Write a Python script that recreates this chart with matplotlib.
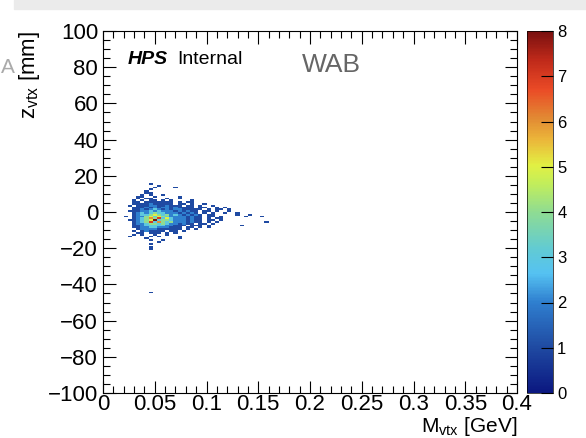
import numpy as np
import matplotlib.pyplot as plt
from matplotlib.colors import LinearSegmentedColormap
from matplotlib.ticker import MultipleLocator

plt.rcParams['font.family'] = ['Liberation Sans', 'DejaVu Sans']

# histogram binning (GeV, mm)
x_edges = np.linspace(0, 0.4, 101)
y_edges = np.linspace(-100, 100, 201)

# counts: one string per 1 mm row, one char per
# 0.004 GeV column starting at M = 0.020 GeV ('.' = empty)
x_first = 0.020
row_z = list(range(15, -22, -1))
row_counts = [
    "......1",                               # 15
    "........1",                             # 14
    ".......1....1",                         # 13
    "......1",                               # 12
    ".....1",                                # 11
    ".....11",                               # 10
    "....1.1..1",                            # 9
    "...11..1.....1",                        # 8
    "...1.11...1..1",                        # 7
    "..1.1.11.1.1....1",                     # 6
    "..11.1111111.1.11",                     # 5
    "..1111211111.11.1..1",                  # 4
    ".1.11122112111.11.1..1",                # 3
    "..111212122121111.11..1.1",             # 2
    "..11212321212211111.1.11.1",            # 1
    ".11122323222121211.11.1..1",            # 0
    "..1232343322212121.1.1..1..1",          # -1
    "..12334543423212121.11.....1..1",       # -2
    "1.12245354322221211.11.1.....1...1",    # -3
    "..12346473532221211.1.11",              # -4
    ".112345834432221211.11.1",              # -5
    "..12347364342221211.1.1...........1",   # -6
    "..122344343221211.11.1",                # -7
    "..1123333322111.111.1.......1",         # -8
    "..112233222111.11.1.1",                 # -9
    "...12222111111.1.1",                    # -10
    "..1.121111.11.1",                       # -11
    "...11.111.1.1",                         # -12
    "..1.1..1..1",                           # -13
    ".1....1.1....1",                        # -14
    ".....1.......1",                        # -15
    "......1..1",                            # -16
    "........1",                             # -17
    "......1",                               # -18
    "",                                      # -19
    "......1",                               # -20
    "......1",                               # -21
]
outlier_m = [0.045]
outlier_z = [-45]
outlier_n = [1]

H = np.zeros((len(x_edges) - 1, len(y_edges) - 1))
ix0 = int(round(x_first / 0.004))
for z, row in zip(row_z, row_counts):
    iy = int(z + 100)
    for k, ch in enumerate(row):
        if ch != '.':
            H[ix0 + k, iy] = int(ch)
for m, z, n in zip(outlier_m, outlier_z, outlier_n):
    H[int(m / 0.004), int(z + 100)] = n

cmap = LinearSegmentedColormap.from_list('rootpal', [
    (0.0, '#0b1780'), (0.125, '#1f4aa2'), (0.25, '#2f7fcf'),
    (0.33, '#55c2f2'), (0.40, '#62cbd2'), (0.5, '#8fdc92'),
    (0.58, '#c3ee5a'), (0.63, '#e2f043'), (0.70, '#ebb63a'),
    (0.76, '#e28a33'), (0.84, '#ea4a26'), (0.92, '#c02a1a'),
    (1.0, '#7a1010')])

fig = plt.figure(figsize=(5.86, 4.38), dpi=100)
# screenshot remnants
fig.patches.append(plt.Rectangle((14 / 586, 1 - 9 / 438), 1, 9 / 438,
                                 transform=fig.transFigure, color='#ebebeb'))
fig.text(0.002, 0.845, 'A', fontsize=15, color='#aaaaaa', va='center')

ax = fig.add_axes([103 / 586, 1 - 393 / 438, 414 / 586, 362 / 438])
Hm = np.ma.masked_where(H == 0, H)
mesh = ax.pcolormesh(x_edges, y_edges, Hm.T, cmap=cmap, vmin=0, vmax=8)

ax.set_xlim(0, 0.4)
ax.set_ylim(-100, 100)
ax.xaxis.set_major_locator(MultipleLocator(0.05))
ax.xaxis.set_minor_locator(MultipleLocator(0.01))
ax.yaxis.set_major_locator(MultipleLocator(20))
ax.yaxis.set_minor_locator(MultipleLocator(5))
ax.tick_params(which='both', direction='in', top=True, right=True,
               labelsize=16, width=0.8)
ax.tick_params(which='major', length=9)
ax.tick_params(which='minor', length=5)
ax.tick_params(axis='x', pad=1)
ax.set_xticks(np.arange(0, 0.41, 0.05))
ax.set_xticklabels(['0', '0.05', '0.1', '0.15', '0.2', '0.25', '0.3', '0.35', '0.4'])
ax.set_yticks(np.arange(-100, 101, 20))
ax.set_yticklabels([str(v).replace('-', '\u2212') for v in range(-100, 101, 20)])
for s in ax.spines.values():
    s.set_linewidth(0.8)

ax.set_xlabel(r'M$_{\mathregular{vtx}}$ [GeV]', fontsize=15, loc='right', labelpad=0)
ax.set_ylabel(r'z$_{\mathregular{vtx}}$ [mm]', fontsize=16, loc='top', labelpad=4)

ax.text(0.06, 0.92, 'HPS', transform=ax.transAxes, fontsize=14,
        fontweight='bold', style='italic', va='center')
ax.text(0.18, 0.92, 'Internal', transform=ax.transAxes, fontsize=14, va='center')
ax.text(0.48, 0.905, 'WAB', transform=ax.transAxes, fontsize=19,
        color='#666666', va='center')

cax = fig.add_axes([527 / 586, 1 - 393 / 438, 26 / 586, 362 / 438])
cb = fig.colorbar(mesh, cax=cax)
cb.set_ticks(range(0, 9))
cb.outline.set_linewidth(0.5)
cax.tick_params(direction='in', length=9, labelsize=12, pad=3, width=0.8)

fig.savefig('out.png', dpi=100)
